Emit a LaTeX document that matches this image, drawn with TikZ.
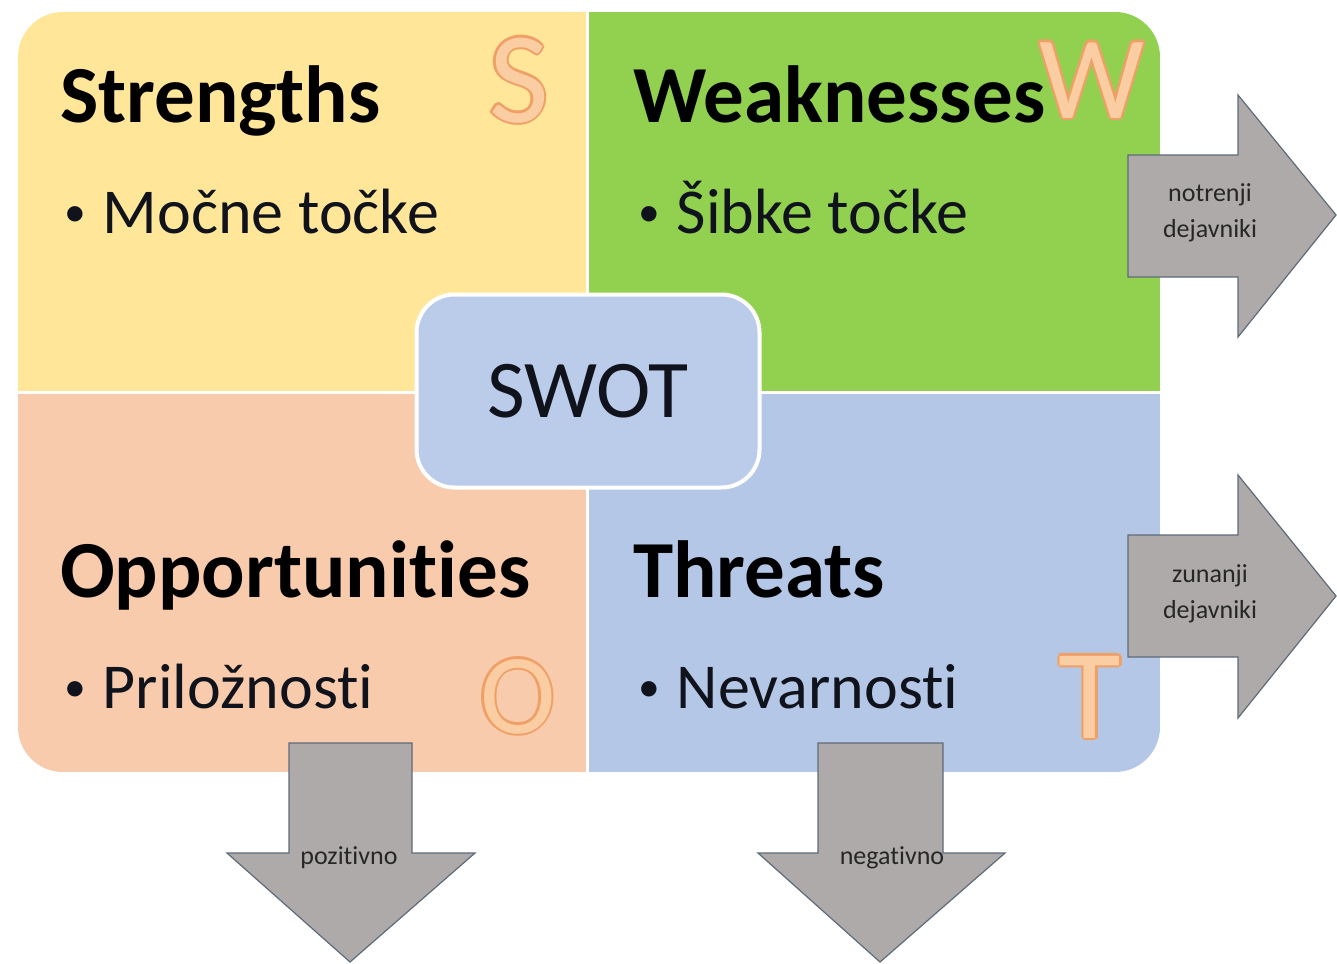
\documentclass[tikz,border=0pt]{standalone}
\usepackage{fontspec}
\setmainfont{Carlito}[Ligatures=NoCommon]
\definecolor{qyellow}{HTML}{FFE699}
\definecolor{qgreen}{HTML}{92D050}
\definecolor{qpeach}{HTML}{F8CBAD}
\definecolor{qblue}{HTML}{B4C7E7}
\definecolor{cblue}{HTML}{BACCEA}
\definecolor{agray}{HTML}{AEAAAA}
\definecolor{aline}{HTML}{5E6B78}
\definecolor{lfill}{HTML}{FBCDA3}
\definecolor{lline}{HTML}{F0A066}
\definecolor{itemtext}{HTML}{10131C}
\newcommand\outlet[4]{%
  \foreach \a in {0,45,...,315}{\path #2 ++(\a:2.4) node[anchor=base,text=lline,inner sep=0pt,font=\fontsize{#4}{#4}\selectfont]{#3};}
  \node[anchor=base,text=lfill,inner sep=0pt,font=\fontsize{#4}{#4}\selectfont] (#1) at #2 {#3};}
\newcommand\itembul{\raisebox{7pt}{\scalebox{0.68}{•}}\hspace{17pt}}
\tikzset{
  head/.style={anchor=base west,inner sep=0pt,font=\fontsize{81}{96}\selectfont\bfseries,text=black},
  item/.style={anchor=base west,inner sep=0pt,font=\fontsize{64}{76}\selectfont,text=itemtext},
  arrowshape/.style={fill=agray,draw=aline,line width=1.2pt,line join=miter},
  alabel/.style={inner sep=0pt,font=\fontsize{26}{36}\selectfont,text=black!85,align=center}
}
\begin{document}
\begin{tikzpicture}[x=1pt,y=-1pt]
\useasboundingbox (0,0) rectangle (1337,963);
\fill[white] (0,0) rectangle (1337,963);
% quadrants
\begin{scope}
\clip[rounded corners=45pt] (18,12) rectangle (1160,772);
\fill[qyellow] (18,12) rectangle (587,392);
\fill[qgreen] (587,12) rectangle (1160,392);
\fill[qpeach] (18,392) rectangle (587,772);
\fill[qblue] (587,392) rectangle (1160,772);
\draw[white,line width=3pt] (587,12) -- (587,772) (18,392) -- (1160,392);
\end{scope}
% letters
\outlet{ls}{(519,122)}{S}{130}
\outlet{lw}{(1092,118)}{W}{118}
\outlet{lo}{(518,733)}{O}{114}
\outlet{lt}{(1090,738)}{T}{128}
% headings and items
\node[head] (hs) at (60,122) {Strengths};
\node[item] (is) at (64,233) {\itembul Močne točke};
\node[head] (hw) at (633,122) {Weaknesses};
\node[item] (iw) at (638,233) {\itembul Šibke točke};
\node[head] (ho) at (60,597) {Opportunities};
\node[item] (io) at (64,708) {\itembul Priložnosti};
\node[head] (ht) at (633,597) {Threats};
\node[item] (it) at (638,708) {\itembul Nevarnosti};
% centre
\node[draw=white,line width=4pt,fill=cblue,rounded corners=38pt,minimum width=343pt,minimum height=193pt,inner sep=0pt,font=\fontsize{82}{96}\selectfont,text=itemtext] (swot) at (588,391) {SWOT};
% arrows
\path[arrowshape] (1128,155) -- (1238,155) -- (1238,95) -- (1336,215) -- (1238,337) -- (1238,277) -- (1128,277) -- cycle;
\node[alabel] (a1) at (1210,213) {notrenji\\dejavniki};
\path[arrowshape] (1128,535) -- (1238,535) -- (1238,475) -- (1336,596) -- (1238,718) -- (1238,657) -- (1128,657) -- cycle;
\node[alabel] (a2) at (1210,594) {zunanji\\dejavniki};
\path[arrowshape] (289,743) -- (412,743) -- (412,853) -- (475,853) -- (350,962) -- (227,853) -- (289,853) -- cycle;
\node[alabel] (a3) at (349,858) {pozitivno};
\path[arrowshape] (818,743) -- (943,743) -- (943,853) -- (1005,853) -- (880,962) -- (758,853) -- (818,853) -- cycle;
\node[alabel] (a4) at (892,858) {negativno};
\end{tikzpicture}
\end{document}
